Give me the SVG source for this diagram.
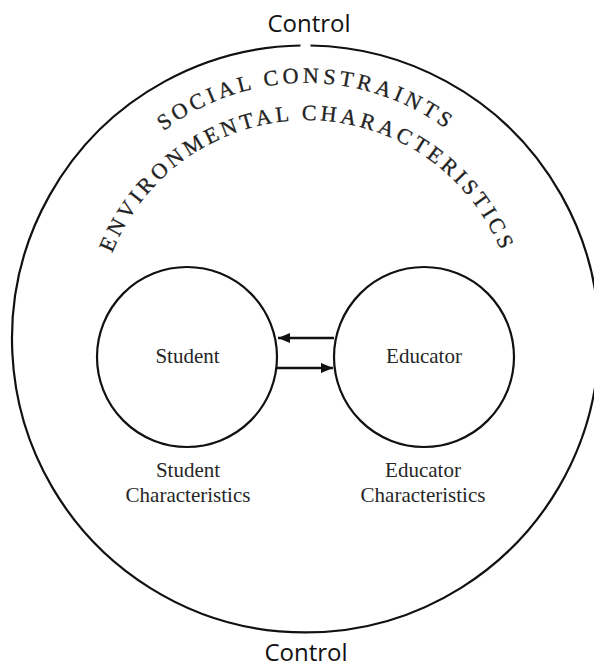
<svg xmlns="http://www.w3.org/2000/svg" width="594" height="668" viewBox="0 0 594 668">
<style>
.ctl{font-family:"Open Sans","DejaVu Sans",sans-serif;font-size:24px;fill:#111;text-anchor:middle}
.lbl{font-family:"Liberation Serif","DejaVu Serif",serif;font-size:21px;fill:#262626;text-anchor:middle}
.arc{font-family:"Liberation Serif","DejaVu Serif",serif;font-size:22px;fill:#222;stroke:#222;stroke-width:0.3}
.ring{fill:none;stroke:#111;stroke-width:2.2}
.conn{fill:none;stroke:#111;stroke-width:2.5}
</style>
<defs>
<marker id="ah" viewBox="0 0 12 10" refX="12" refY="5" markerWidth="12" markerHeight="10" markerUnits="userSpaceOnUse" orient="auto">
<path d="M0,0 L12,5 L0,10 z" fill="#111"/>
</marker>
<path id="pSocial" d="M 139.8,151.8 A 235 235 0 0 1 472.2,151.8"/>
<path id="pEnv" d="M 101.2,292.7 A 209 209 0 0 1 512.8,292.7"/>
</defs>
<rect width="594" height="668" fill="#fff"/>
<g id="outer">
<path class="ring" d="M 310.5,45.5 A 293.5 293.5 0 1 1 300.5,45.5"/>
<text class="ctl" x="309" y="32">Control</text>
<text class="ctl" x="306" y="661">Control</text>
<text class="arc" letter-spacing="3.9"><textPath href="#pSocial" startOffset="50%" text-anchor="middle">SOCIAL CONSTRAINTS</textPath></text>
<text class="arc" letter-spacing="3.7"><textPath href="#pEnv" startOffset="50%" text-anchor="middle">ENVIRONMENTAL CHARACTERISTICS</textPath></text>
</g>
<g id="student">
<circle class="ring" cx="187" cy="357" r="90"/>
<text class="lbl" x="187.5" y="363">Student</text>
<text class="lbl" x="188" y="477">Student</text>
<text class="lbl" x="188" y="502">Characteristics</text>
</g>
<g id="educator">
<circle class="ring" cx="424" cy="357" r="90"/>
<text class="lbl" x="424" y="363">Educator</text>
<text class="lbl" x="423" y="477">Educator</text>
<text class="lbl" x="423" y="502">Characteristics</text>
</g>
<g id="connectors">
<line class="conn" x1="334" y1="338" x2="278" y2="338" marker-end="url(#ah)"/>
<line class="conn" x1="277" y1="368" x2="333" y2="368" marker-end="url(#ah)"/>
</g>
</svg>
